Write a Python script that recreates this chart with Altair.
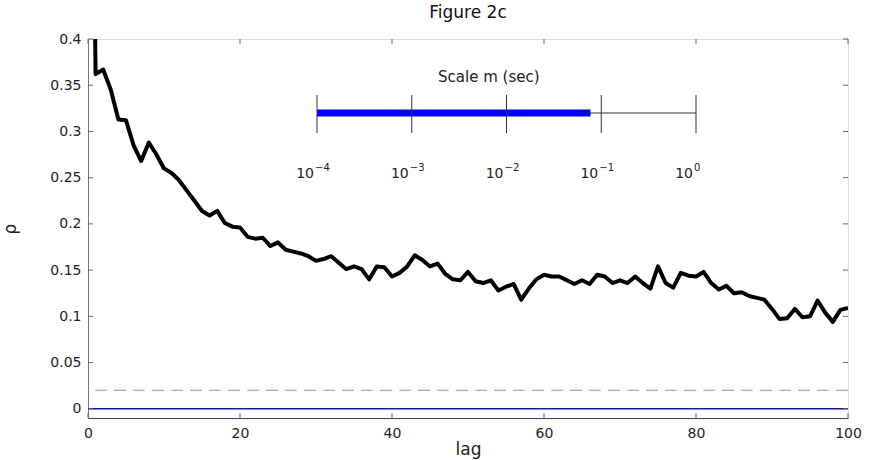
import altair as alt
import pandas as pd

# Autocorrelation rho at each lag
lags = list(range(0, 101))
rho = [
    1.0, 0.362, 0.367, 0.345, 0.313, 0.312, 0.285, 0.268, 0.288, 0.275,
    0.260, 0.255, 0.247, 0.236, 0.225, 0.214, 0.209, 0.214, 0.201, 0.197,
    0.196, 0.186, 0.184, 0.185, 0.176, 0.180, 0.172, 0.170, 0.168, 0.165,
    0.160, 0.162, 0.165, 0.158, 0.151, 0.154, 0.151, 0.140, 0.154, 0.153,
    0.143, 0.147, 0.154, 0.166, 0.161, 0.154, 0.157, 0.146, 0.140, 0.139,
    0.148, 0.138, 0.136, 0.139, 0.128, 0.132, 0.135, 0.118, 0.130, 0.140,
    0.145, 0.143, 0.143, 0.139, 0.135, 0.139, 0.135, 0.145, 0.143, 0.136,
    0.139, 0.136, 0.143, 0.136, 0.130, 0.154, 0.136, 0.131, 0.147, 0.144,
    0.143, 0.148, 0.136, 0.129, 0.133, 0.125, 0.126, 0.122, 0.120, 0.118,
    0.108, 0.097, 0.098, 0.108, 0.099, 0.100, 0.117, 0.104, 0.094, 0.107,
    0.109,
]
zero_level = [0.0]
threshold_level = [0.02]

x_ticks = [0, 20, 40, 60, 80, 100]
y_ticks = [0, 0.05, 0.1, 0.15, 0.2, 0.25, 0.3, 0.35, 0.4]

# Inset: time scale m in seconds (log axis)
scale_ticks = [1e-4, 1e-3, 1e-2, 1e-1, 1.0]
scale_exponents = ["−4", "−3", "−2", "−1", "0"]
scale_span = [1e-4, 1.0]
scale_used = [1e-4, 0.077]

W, H = 760, 379
FONT = "DejaVu Sans"
INK = "#222"

df = pd.DataFrame({"lag": lags, "rho": rho})
xs = alt.Scale(domain=[0, 100], nice=False, zero=False)
ys = alt.Scale(domain=[-0.01, 0.4], nice=False, zero=False)

axis_common = dict(grid=False, tickSize=0, labelFontSize=14, titleFontSize=17,
                   titleFontWeight="normal", labelColor=INK, titleColor=INK,
                   labelFont=FONT, titleFont=FONT, labelFlush=False)

line = alt.Chart(df).mark_line(color="black", strokeWidth=4, clip=True, strokeJoin="round").encode(
    x=alt.X("lag:Q", scale=xs, title="lag",
            axis=alt.Axis(values=x_ticks, labelPadding=8, domainColor="#3c3c6e",
                          titlePadding=1, **axis_common)),
    y=alt.Y("rho:Q", scale=ys, title="ρ",
            axis=alt.Axis(values=y_ticks, format=".2~f", labelPadding=7, domainColor="#777",
                          titlePadding=30, **axis_common)),
)

zero_rule = alt.Chart(pd.DataFrame({"v": zero_level})).mark_rule(
    color="#1a1a8c", strokeWidth=1.6).encode(y=alt.Y("v:Q", scale=ys))
thr_rule = alt.Chart(pd.DataFrame({"v": threshold_level})).mark_rule(
    color="#c88080", strokeWidth=1, strokeDash=[12, 7]).encode(y=alt.Y("v:Q", scale=ys))

xt = pd.DataFrame({"t": x_ticks})
yt = pd.DataFrame({"t": y_ticks})
tick_style = dict(color="#666", strokeWidth=1)
bottom_ticks = alt.Chart(xt).mark_rule(**tick_style).encode(
    x=alt.X("t:Q", scale=xs), y=alt.value(H), y2=alt.value(H - 5))
top_ticks = alt.Chart(xt).mark_rule(**tick_style).encode(
    x=alt.X("t:Q", scale=xs), y=alt.value(0), y2=alt.value(5))
left_ticks = alt.Chart(yt).mark_rule(**tick_style).encode(
    y=alt.Y("t:Q", scale=ys), x=alt.value(0), x2=alt.value(5))
right_ticks = alt.Chart(yt).mark_rule(**tick_style).encode(
    y=alt.Y("t:Q", scale=ys), x=alt.value(W), x2=alt.value(W - 5))

main = alt.layer(zero_rule, thr_rule, line, bottom_ticks, top_ticks, left_ticks, right_ticks)

# Inset log-scale bar
ls = alt.Scale(type="log", domain=[1e-4, 1.0], range=[229, 608])
span_df = pd.DataFrame({"a": [scale_span[0]], "b": [scale_span[1]]})
used_df = pd.DataFrame({"a": [scale_used[0]], "b": [scale_used[1]]})
tick_df = pd.DataFrame({"m": scale_ticks, "exp": scale_exponents})

span_line = alt.Chart(span_df).mark_rule(color="#333", strokeWidth=1).encode(
    x=alt.X("a:Q", scale=ls, axis=None), x2="b:Q", y=alt.value(74))
used_bar = alt.Chart(used_df).mark_rule(color="#0000ff", strokeWidth=7).encode(
    x=alt.X("a:Q", scale=ls, axis=None), x2="b:Q", y=alt.value(74))
decade_ticks = alt.Chart(tick_df).mark_rule(color="#333", strokeWidth=1).encode(
    x=alt.X("m:Q", scale=ls, axis=None), y=alt.value(56), y2=alt.value(94))
decade_base = alt.Chart(tick_df).mark_text(
    text="10", fontSize=14, font=FONT, color=INK, baseline="middle", align="right", dx=-3).encode(
    x=alt.X("m:Q", scale=ls, axis=None), y=alt.value(135))
decade_exp = alt.Chart(tick_df).mark_text(
    fontSize=10, font=FONT, color=INK, baseline="middle", align="left", dx=-2).encode(
    x=alt.X("m:Q", scale=ls, axis=None), y=alt.value(129), text="exp:N")
inset_title = alt.Chart(pd.DataFrame({"m": [0.0065]})).mark_text(
    text="Scale m (sec)", fontSize=15, font=FONT, color=INK, baseline="middle", align="center").encode(
    x=alt.X("m:Q", scale=ls, axis=None), y=alt.value(38))

inset = alt.layer(span_line, used_bar, decade_ticks, decade_base, decade_exp, inset_title)

chart = alt.layer(main, inset).resolve_scale(x="independent").properties(
    width=W, height=H,
    title=alt.Title("Figure 2c", fontSize=17, fontWeight="normal", font=FONT, color="#111",
                    anchor="middle", offset=10),
    padding={"left": 88, "top": 39, "right": 23, "bottom": 42},
    autosize=alt.AutoSizeParams(type="none"),
).configure_view(stroke="#777", strokeWidth=1).configure(background="white")

chart.save("out.html", embed_options={"renderer": "svg", "actions": False})
